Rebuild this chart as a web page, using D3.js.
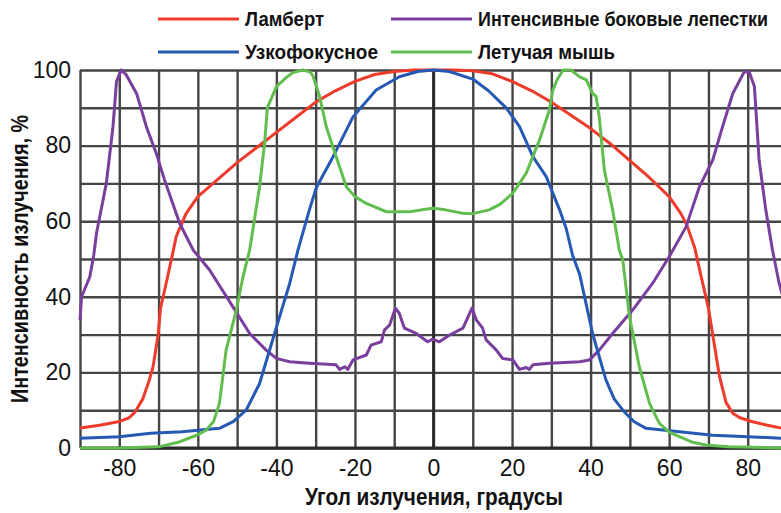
<!DOCTYPE html>
<html>
<head>
<meta charset="utf-8">
<script src="https://cdn.jsdelivr.net/npm/d3@7"></script>
<style>
  body { margin: 0; background: #fff; }
  svg { display: block; }
  text { font-family: "Liberation Sans", Arial, sans-serif; }
  .grid line { stroke: #454545; stroke-width: 2.4; }
  .grid path { display: none; }
  .tick-labels path, .tick-labels line { display: none; }
  .tick-labels text { font-size: 23px; fill: #111; font-family: "Liberation Sans", Arial, sans-serif; }
  .title { font-size: 23px; font-weight: bold; fill: #111; }
  .legend text { font-size: 18px; font-weight: bold; fill: #111; }
</style>
</head>
<body>
<div id="chart"></div>
<script>
// Intensity vs emission angle for four LED radiation patterns

var lambertAngle = [-90, -85, -80, -77.5, -76, -74, -72.5, -71.4, -70.1, -69.5, -68.4, -66.7, -65.5, -63, -60, -55, -50, -45, -40, -35, -30, -25, -20, -15, -10, -5, 0,
  5, 10, 15, 20, 25, 30, 35, 40, 45, 50, 55, 60, 63, 64.5, 66.5, 68, 70, 72.8, 74.5, 76.2, 78, 81, 85, 90];
var lambertValue = [5.3, 6, 7, 8, 9.5, 13, 17.5, 21.5, 30, 37, 42, 50, 56, 62, 66.5, 71, 75.5, 79.5, 83.5, 87.5, 91.5, 94.5, 97, 98.8, 99.6, 100, 100,
  100, 99.8, 99, 97, 94.5, 91.5, 88, 84.5, 80.5, 76, 71.5, 66.5, 62, 59, 53, 46, 37, 19, 12, 9.2, 8, 7, 6, 5];

var narrowAngle = [-90, -80, -72, -64, -54.5, -51, -47.7, -44.3, -41.7, -39.2, -36.6, -34.5, -31.6, -29.8, -25.6, -20.5, -14.6, -8.7, -4, 0,
  4, 10, 14, 18.5, 21.9, 25.3, 28.7, 32.1, 33.8, 35.4, 37.2, 40.5, 43.9, 46, 48.2, 51, 54.1, 62.6, 71.1, 80, 90];
var narrowValue = [2.6, 3, 3.9, 4.3, 5.2, 7, 10, 17, 26, 34.7, 43.6, 52.4, 63, 69, 77, 87.6, 94.7, 98.2, 99.6, 100,
  99.6, 97.6, 94.5, 90, 85, 77.1, 71.8, 63, 58, 51, 46, 30.3, 18, 13, 10, 7, 5.2, 4.3, 3.4, 3, 2.5];

var batAngle = [-90, -80, -70, -65, -60, -57.8, -56, -54.5, -52.8, -50.2, -48.5, -46.8, -44.3, -43, -42.3, -40, -37.5, -35.8, -33.3, -31.5, -30.7, -29, -27.3, -24.8, -22.2, -20, -17.1, -12, -6.1, -3, 0,
  3, 7.4, 10, 14.2, 17, 20.2, 23.6, 27, 29.5, 30.4, 31.5, 33, 35, 37.2, 38.9, 40.5, 41.4, 42.2, 43.5, 45.6, 47.3, 48.2, 49.9, 52.4, 55, 57.5, 60, 62.6, 66, 69.4, 75, 90];
var batValue = [0, 0, 0.3, 1.5, 3.5, 4.8, 7, 11.8, 25.9, 36.5, 45.3, 52.4, 69, 80.6, 90, 95.6, 98, 99.3, 100, 99.5, 98.5, 93, 85, 77.1, 69.1, 66.5, 64.7, 62.5, 62.5, 63, 63.4,
  63, 62.1, 62, 63, 64.5, 67.4, 72.7, 81.5, 89.4, 94.7, 97.5, 100, 100, 98.2, 97.4, 93.8, 93, 87.6, 73.5, 63, 52.4, 49.7, 34.7, 21.5, 11.8, 6.5, 4.2, 3, 1.5, 0.8, 0.3, 0];

var lobeAngle = [-90, -89.6, -87.5, -86.5, -85.8, -83.3, -81.6, -80.7, -79.5, -78.2, -75.6, -73.1, -70.6, -68.5, -66.5, -64.6, -61.2, -57, -51.1, -46.8, -42.6, -40, -36.6, -31.6,
  -24.8, -23.9, -22.6, -21.8, -20.5, -17.1, -15.9, -13.3, -12.5, -11.2, -9.7, -8.7, -7.4, -4.4, -1.5, -0.2, 1.5, 4.1, 7.5, 9.8, 10.9, 12.5, 13.4, 16, 17.6, 20.2, 21.9, 23.6, 24.4, 25.3,
  29.5, 37.2, 39.7, 42.2, 45.6, 50.7, 55.8, 60, 64.3, 67.7, 71.1, 73.6, 76.2, 79.1, 80.4, 81.7, 82.9, 84.6, 86.3, 88, 90];
var lobeValue = [33.9, 40, 45.3, 51, 56.8, 70, 85, 97, 100, 98.7, 93.8, 85, 78, 71, 65, 59.4, 52.4, 47.1, 37.4, 30.3, 25.9, 23.7, 22.8, 22.4,
  22, 20.8, 21.5, 20.8, 23.3, 24.6, 27.2, 28.1, 31.2, 32.5, 37, 35.6, 31.7, 30.3, 28.1, 28.8, 28.1, 29.9, 31.7, 37, 33.9, 31.7, 28.6, 25.9, 23.7, 23.3, 20.8, 21.3, 20.8, 22,
  22.4, 22.8, 23.3, 25.9, 30.3, 36.5, 43.6, 50.6, 58.5, 69.1, 76.2, 85, 93.8, 99.5, 99.5, 95.6, 76.2, 63, 52.4, 43.6, 36];

var seriesNames = ["Ламберт", "Интенсивные боковые лепестки", "Узкофокусное", "Летучая мышь"];
var seriesColors = ["#ee3b2b", "#7a3f9d", "#2559b4", "#62bd4f"];

var xTicks = [-80, -60, -40, -20, 0, 20, 40, 60, 80];
var yTicks = [0, 20, 40, 60, 80, 100];

var svgWidth = 781, svgHeight = 513;

var svg = d3.select("#chart")
  .append("svg")
  .attr("width", svgWidth)
  .attr("height", svgHeight);

var xScale = d3.scaleLinear().domain([-90, 90]).range([80, 787]);
var yScale = d3.scaleLinear().domain([0, 100]).range([448, 70]);

// grid lines every 10 units
svg.append("g")
  .attr("class", "grid")
  .attr("transform", "translate(0,448)")
  .call(d3.axisBottom(xScale).tickValues(d3.range(-90, 91, 10)).tickSize(-378).tickFormat(""));

svg.append("g")
  .attr("class", "grid")
  .attr("transform", "translate(80,0)")
  .call(d3.axisLeft(yScale).tickValues(d3.range(0, 101, 10)).tickSize(-710).tickFormat(""));

// heavier zero lines
svg.append("line")
  .attr("x1", xScale(0)).attr("x2", xScale(0))
  .attr("y1", yScale(0)).attr("y2", yScale(100))
  .attr("stroke", "#2a2a2a").attr("stroke-width", 2.8);
svg.append("line")
  .attr("x1", xScale(-90)).attr("x2", svgWidth)
  .attr("y1", yScale(0)).attr("y2", yScale(0))
  .attr("stroke", "#2a2a2a").attr("stroke-width", 2.8);

// tick labels
svg.append("g")
  .attr("class", "tick-labels")
  .attr("transform", "translate(0,448)")
  .call(d3.axisBottom(xScale).tickValues(xTicks).tickSize(0).tickPadding(12));

svg.append("g")
  .attr("class", "tick-labels")
  .attr("transform", "translate(80,0)")
  .call(d3.axisLeft(yScale).tickValues(yTicks).tickSize(0).tickPadding(9));

svg.selectAll(".tick-labels text").text(function () {
  return d3.select(this).text().replace("−", "-");
});

// curves
var line = d3.line()
  .x(d => xScale(d[0]))
  .y(d => yScale(d[1]));

var series = [
  { color: seriesColors[0], pts: d3.zip(lambertAngle, lambertValue) },
  { color: seriesColors[1], pts: d3.zip(lobeAngle, lobeValue) },
  { color: seriesColors[2], pts: d3.zip(narrowAngle, narrowValue) },
  { color: seriesColors[3], pts: d3.zip(batAngle, batValue) }
];

svg.selectAll(".curve")
  .data(series)
  .enter()
  .append("path")
  .attr("class", "curve")
  .attr("fill", "none")
  .attr("stroke", d => d.color)
  .attr("stroke-width", 3)
  .attr("stroke-linejoin", "round")
  .attr("d", d => line(d.pts));

// legend: smaller bold text stretched vertically to look like the condensed original
var legendX = [158, 391];
var legendY = [19, 52];
var legendWidths = [79, 290, 133, 137];
var legend = svg.append("g").attr("class", "legend");
seriesNames.forEach(function (name, i) {
  var lx = legendX[i % 2], ly = legendY[Math.floor(i / 2)];
  legend.append("line")
    .attr("x1", lx).attr("x2", lx + 81)
    .attr("y1", ly).attr("y2", ly)
    .attr("stroke", seriesColors[i])
    .attr("stroke-width", 3);
  legend.append("text")
    .attr("transform", `translate(${lx + 87}, ${ly + 7}) scale(1, 1.12)`)
    .attr("textLength", legendWidths[i])
    .attr("lengthAdjust", "spacingAndGlyphs")
    .text(name);
});

// axis titles
svg.append("text")
  .attr("class", "title")
  .attr("x", 434)
  .attr("y", 505)
  .attr("text-anchor", "middle")
  .attr("textLength", 258)
  .attr("lengthAdjust", "spacingAndGlyphs")
  .text("Угол излучения, градусы");

svg.append("text")
  .attr("class", "title")
  .attr("transform", "rotate(-90)")
  .attr("x", -259)
  .attr("y", 28)
  .attr("text-anchor", "middle")
  .attr("textLength", 288)
  .attr("lengthAdjust", "spacingAndGlyphs")
  .text("Интенсивность излучения, %");
</script>
</body>
</html>
